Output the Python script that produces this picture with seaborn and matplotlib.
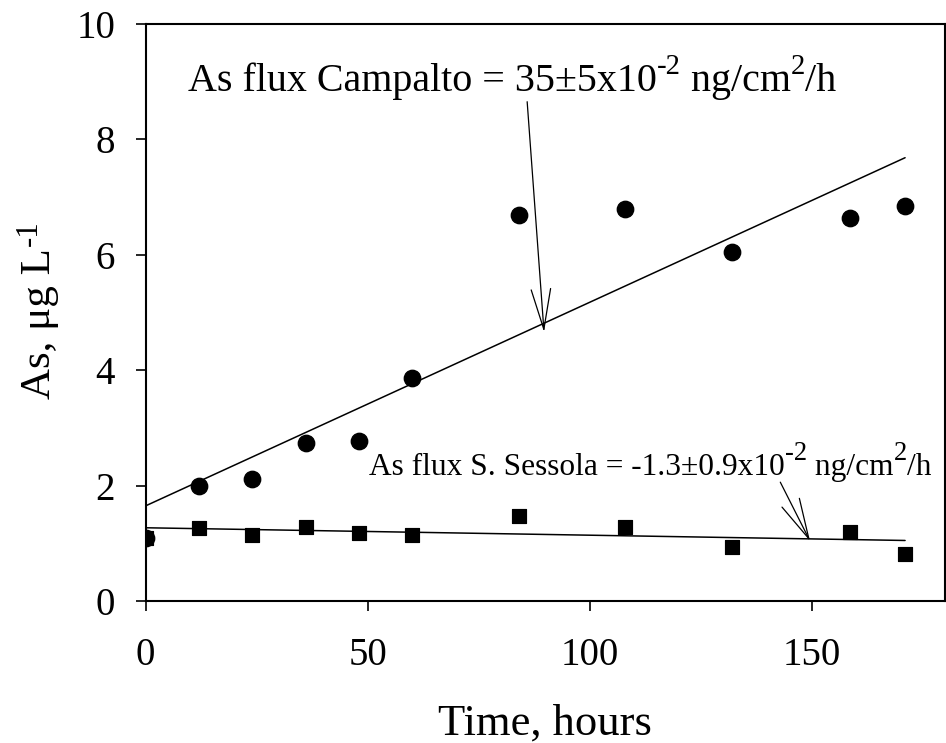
import matplotlib
matplotlib.use("Agg")
import matplotlib.pyplot as plt
from matplotlib.transforms import IdentityTransform
import seaborn as sns
import pandas as pd

# data
hours = [0, 12, 24, 36, 48, 60, 84, 108, 132, 158.5, 171]
campalto = [1.1, 1.99, 2.11, 2.73, 2.78, 3.86, 6.68, 6.79, 6.05, 6.63, 6.85]
sessola = [1.1, 1.27, 1.15, 1.28, 1.18, 1.15, 1.48, 1.28, 0.94, 1.19, 0.81]

# fitted lines (end points)
fit_x = [0, 171]
fit_campalto = [1.65, 7.68]
fit_sessola = [1.27, 1.05]

sns.set_theme(style="ticks")
plt.rcParams["font.family"] = ["Liberation Serif", "DejaVu Serif"]
for k in ["text.color", "axes.labelcolor", "xtick.color", "ytick.color", "axes.edgecolor"]:
    plt.rcParams[k] = "black"

df = pd.DataFrame({"hours": hours, "Campalto": campalto, "Sessola": sessola})

fig = plt.figure(figsize=(9.46, 7.43), dpi=100)
ax = fig.add_axes([0.154, 0.191, 0.845, 0.777])

sns.lineplot(x=fit_x, y=fit_campalto, color="black", lw=1.1, ax=ax)
sns.lineplot(x=fit_x, y=fit_sessola, color="black", lw=1.1, ax=ax)
sns.scatterplot(data=df, x="hours", y="Campalto", marker="o", s=140,
                color="black", edgecolor="black", ax=ax, zorder=3)
sns.scatterplot(data=df, x="hours", y="Sessola", marker="s", s=110,
                color="black", edgecolor="black", ax=ax, zorder=3)

ax.set_xlim(0, 180)
ax.set_ylim(0, 10)
ax.set_xticks([0, 50, 100, 150])
ax.set_yticks([0, 2, 4, 6, 8, 10])
ax.tick_params(labelsize=28, length=7, width=1.2)
ax.tick_params(axis="x", pad=19)
ax.tick_params(axis="y", pad=15)
for s in ax.spines.values():
    s.set_linewidth(1.5)

ax.set_xlabel("Time, hours", fontsize=32, labelpad=21)
ax.set_ylabel("As, μg L", fontsize=31)
ax.yaxis.set_label_coords(-0.108, 0.48)


def rich_text(x, y, pieces, size):
    # pieces: (text, relative size, raise in em)
    fig.canvas.draw()
    renderer = fig.canvas.get_renderer()
    px, py = ax.transData.transform((x, y))
    for txt, rel, rise in pieces:
        t = ax.text(px, py + rise * size * fig.dpi / 72, txt, transform=IdentityTransform(),
                    fontsize=size * rel, va="baseline", ha="left")
        px = t.get_window_extent(renderer).x1


rich_text(9.5, 8.84, [("As flux Campalto = 35±5x10", 1, 0), ("-2", 0.72, 0.42),
                      (" ng/cm", 1, 0), ("2", 0.72, 0.42), ("/h", 1, 0)], 28.8)
rich_text(50.3, 2.18, [("As flux S. Sessola = -1.3±0.9x10", 1, 0), ("-2", 0.85, 0.5),
                       (" ng/cm", 1, 0), ("2", 0.85, 0.5), ("/h", 1, 0)], 22.6)

arrow = dict(arrowstyle="->,head_length=2.9,head_width=0.7", mutation_scale=10,
             color="black", lw=0.9, shrinkA=0, shrinkB=0)
ax.annotate("", xy=(89.7, 4.66), xytext=(85.9, 8.65), arrowprops=arrow)
ax.annotate("", xy=(149.6, 1.04), xytext=(142.9, 2.06), arrowprops=arrow)

fig.canvas.draw()
# superscript of the y label
yl = ax.yaxis.label.get_window_extent(fig.canvas.get_renderer())
ax.text(yl.x0 - 6, yl.y1 + 3, "-1", transform=IdentityTransform(), rotation=90,
        fontsize=31 * 0.72, ha="left", va="bottom")

fig.savefig("out.png", dpi=100)
